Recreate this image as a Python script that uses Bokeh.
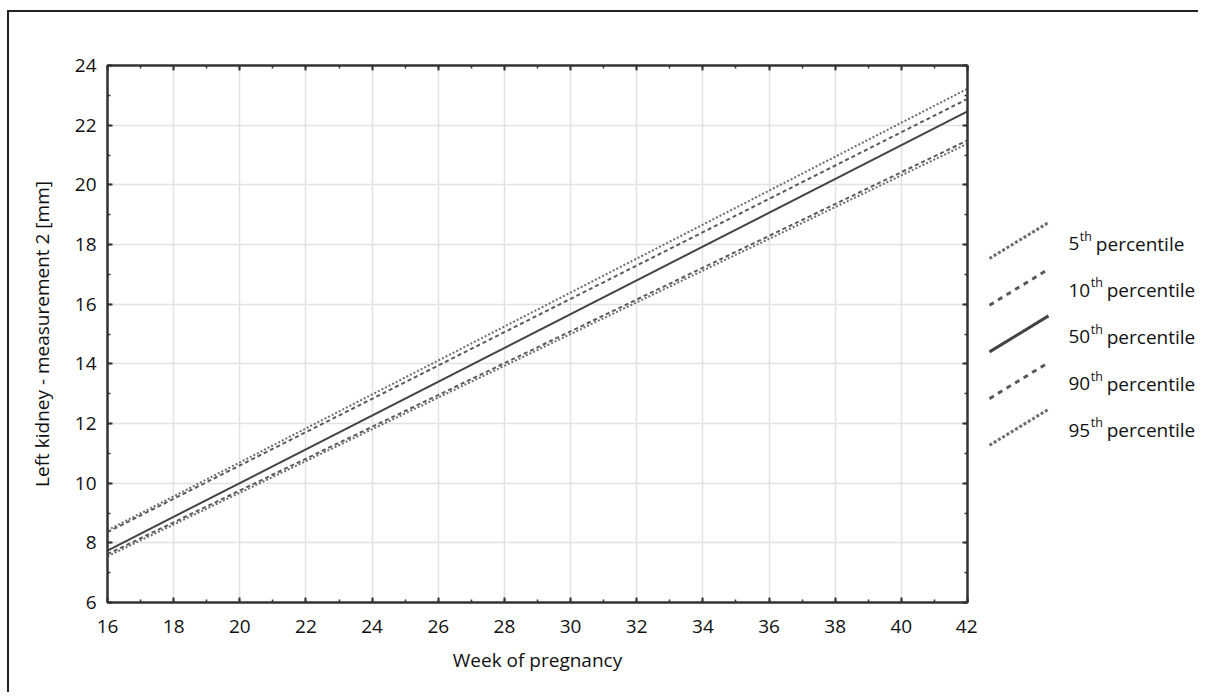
from bokeh.plotting import figure
from bokeh.layouts import row
from bokeh.models import LinearAxis, Range1d, SingleIntervalTicker
from bokeh.core.properties import value
from bokeh.embed import file_html
from bokeh.resources import INLINE

# ---- data ----
weeks = [16, 42]
p5 = [7.55, 21.38]
p10 = [7.62, 21.49]
p50 = [7.74, 22.46]
p90 = [8.36, 22.88]
p95 = [8.42, 23.22]
series_names = ["5", "10", "50", "90", "95"]
x_label = "Week of pregnancy"
y_label = "Left kidney - measurement 2 [mm]"

FONT = "Open Sans"
DARK = "#333333"
TXT = "#111111"

TOP, BOTTOM = 53, 90
p = figure(width=968, height=680, x_range=Range1d(16, 42), y_range=Range1d(6, 24),
           output_backend="svg", toolbar_location=None,
           min_border_left=98, min_border_right=10, min_border_top=TOP, min_border_bottom=BOTTOM,
           x_axis_label=x_label, y_axis_label=y_label)
p.background_fill_color = "white"
p.border_fill_color = "white"
p.outline_line_color = DARK
p.outline_line_width = 2

def style_axis(ax, labels=True):
    ax.ticker = SingleIntervalTicker(interval=2, num_minor_ticks=2)
    ax.axis_line_color = DARK
    ax.axis_line_width = 2
    ax.major_tick_in = 5
    ax.major_tick_out = 0
    ax.minor_tick_in = 3
    ax.minor_tick_out = 0
    ax.major_tick_line_color = DARK
    ax.minor_tick_line_color = DARK
    ax.major_tick_line_width = 2
    ax.minor_tick_line_width = 1.5
    ax.major_label_text_font = FONT
    ax.major_label_text_font_size = "19px"
    ax.major_label_text_color = TXT
    ax.axis_label_text_font = FONT
    ax.axis_label_text_font_size = "19px"
    ax.axis_label_text_font_style = "normal"
    ax.axis_label_text_color = TXT
    if not labels:
        ax.major_label_text_font_size = "0px"
        ax.major_label_standoff = 0

style_axis(p.xaxis[0])
style_axis(p.yaxis[0])
p.xaxis[0].major_label_standoff = 17
p.yaxis[0].major_label_standoff = 11
p.xaxis[0].axis_label_standoff = 11
p.yaxis[0].axis_label_standoff = 17

top_ax = LinearAxis()
style_axis(top_ax, labels=False)
right_ax = LinearAxis()
style_axis(right_ax, labels=False)
p.add_layout(top_ax, "above")
p.add_layout(right_ax, "right")

for g in (p.xgrid[0], p.ygrid[0]):
    g.ticker = SingleIntervalTicker(interval=2)
    g.grid_line_color = "#e2e2e2"
    g.grid_line_width = 1.5

styles = {
    "5": dict(line_color="#6e6e6e", line_width=2, line_dash="2 2"),
    "10": dict(line_color="#5a5a5a", line_width=2, line_dash="4 3"),
    "50": dict(line_color="#444444", line_width=2, line_dash="solid"),
    "90": dict(line_color="#5a5a5a", line_width=2, line_dash="4 3"),
    "95": dict(line_color="#6e6e6e", line_width=2, line_dash="2 2"),
}
legend_dash = {"5": "3 2", "10": "5 5", "50": "solid", "90": "5 5", "95": "3 2"}
series = {"5": p5, "10": p10, "50": p50, "90": p90, "95": p95}
for name in series_names:
    p.line(weeks, series[name], **styles[name])

# ---- legend panel: a second figure; its frame is aligned with the main frame,
# so its ranges are expressed in page pixels of that frame ----
LX0, LX1 = 977, 1198
FRAME_TOP, FRAME_BOTTOM = 12 + TOP, 12 + 680 - BOTTOM
lg = figure(width=LX1 - LX0, height=680, x_range=Range1d(LX0, LX1),
            y_range=Range1d(FRAME_BOTTOM, FRAME_TOP), output_backend="svg",
            toolbar_location=None, x_axis_type=None, y_axis_type=None,
            min_border_left=0, min_border_right=0,
            min_border_top=TOP, min_border_bottom=BOTTOM)
lg.outline_line_color = None
lg.background_fill_color = "white"
lg.border_fill_color = "white"

row_y0 = 240.0      # centre of the first legend sample
row_step = 46.7
sample_x0, sample_x1, sample_rise = 989, 1048, 36
text_x = 1068
digit_adv = 0.572 * 19
for i, name in enumerate(series_names):
    yc = row_y0 + i * row_step
    st = dict(styles[name])
    st["line_width"] = 3
    st["line_dash"] = legend_dash[name]
    lg.line([sample_x0, sample_x1], [yc + sample_rise / 2, yc - sample_rise / 2], **st)
    base = yc + 3
    th_x = text_x + digit_adv * len(name)
    lg.text(x=[text_x], y=[base], text=[name], text_baseline="alphabetic",
            text_font=value(FONT), text_font_size="19px", text_color=TXT)
    lg.text(x=[th_x + 0.5], y=[base - 7.5], text=["th"], text_baseline="alphabetic",
            text_font=value(FONT), text_font_size="12.5px", text_color=TXT)
    lg.text(x=[th_x + 16.5], y=[base], text=["percentile"], text_baseline="alphabetic",
            text_font=value(FONT), text_font_size="19px", text_color=TXT)

layout = row(p, lg, spacing=0)
layout.styles = {"border-left": "2px solid #222", "border-top": "2px solid #222",
                 "margin-left": "7px", "margin-top": "10px"}

open("out.html", "w").write(file_html(layout, INLINE))
